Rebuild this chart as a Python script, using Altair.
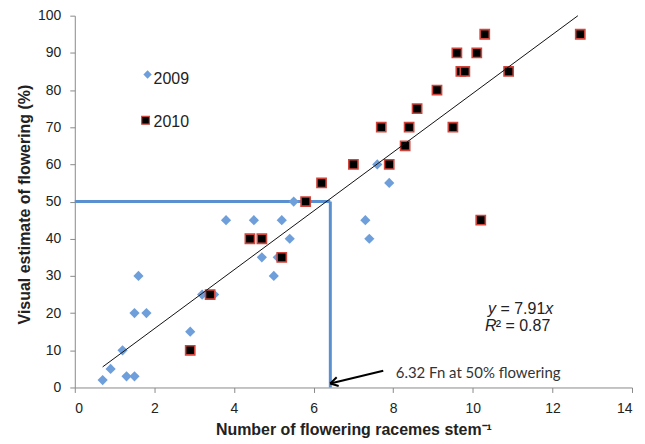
import altair as alt
import pandas as pd

# --- data ---
x2009 = [0.7, 0.9, 1.2, 1.3, 1.5, 1.5, 1.6, 1.8, 2.9, 3.2, 3.5, 3.8, 4.5, 4.7, 5.0, 5.1, 5.2, 5.4, 5.5, 7.3, 7.4, 7.6, 7.9]
y2009 = [2, 5, 10, 3, 3, 20, 30, 20, 15, 25, 25, 45, 45, 35, 30, 35, 45, 40, 50, 45, 40, 60, 55]
x2010 = [2.9, 3.4, 4.4, 4.7, 5.2, 5.8, 6.2, 7.0, 7.7, 7.9, 8.3, 8.4, 8.6, 9.1, 9.5, 9.6, 9.7, 9.8, 10.1, 10.3, 10.9, 10.2, 12.7]
y2010 = [10, 25, 40, 40, 35, 50, 55, 60, 70, 60, 65, 70, 75, 80, 70, 90, 85, 85, 90, 95, 85, 45, 95]

trend_x = [0.7, 12.64]
slope = 7.91

ref_x = 6.42          # vertical guide (6.32 Fn)
ref_y = 50            # 50 % flowering

arrow_x = [7.75, 6.42]   # tail, tip
arrow_y = [4.5, 1.07]
wing_x = [6.63, 6.58]
wing_y = [0.4, 2.73]

x_ticks = [0, 2, 4, 6, 8, 10, 12, 14]
y_ticks = [0, 10, 20, 30, 40, 50, 60, 70, 80, 90, 100]

BLUE_LINE = "#5A8FD0"
BLUE_PT = "#6E9FDA"
RED = "#D0463C"
FONT = "Liberation Sans"

d09 = pd.DataFrame({"x": x2009, "y": y2009})
d10 = pd.DataFrame({"x": x2010, "y": y2010})
trend = pd.DataFrame({"x": trend_x, "y": [slope * v for v in trend_x]})
hline = pd.DataFrame({"x": [0], "x2": [ref_x], "y": [ref_y]})
vline = pd.DataFrame({"x": [ref_x], "y": [0], "y2": [ref_y]})
shaft = pd.DataFrame({"x": [arrow_x[0]], "y": [arrow_y[0]], "x2": [arrow_x[1]], "y2": [arrow_y[1]]})
wings = pd.DataFrame({"x": [arrow_x[1], arrow_x[1]], "y": [arrow_y[1], arrow_y[1]], "x2": wing_x, "y2": wing_y})
one = pd.DataFrame({"a": [0]})

xs = alt.Scale(domain=[0, 14], nice=False)
ys = alt.Scale(domain=[0, 100], nice=False)

X = alt.X("x:Q", scale=xs, axis=alt.Axis(values=x_ticks, title="Number of flowering racemes stem\u207b\u00b9",
                                         titleY=42, titleBaseline="middle"))
Y = alt.Y("y:Q", scale=ys, axis=alt.Axis(values=y_ticks, title="Visual estimate of flowering (%)",
                                         titleX=-50, titleY=189, titleBaseline="middle"))

h = alt.Chart(hline).mark_rule(color=BLUE_LINE, strokeWidth=3).encode(x=X, x2="x2:Q", y=Y)
v = alt.Chart(vline).mark_rule(color=BLUE_LINE, strokeWidth=3).encode(x=X, y=Y, y2="y2:Q")
p09 = alt.Chart(d09).mark_point(shape="diamond", filled=True, size=105, color=BLUE_PT, opacity=1).encode(x=X, y=Y)
p10 = alt.Chart(d10).mark_point(shape="square", filled=True, fill="black", stroke=RED, strokeWidth=1.6,
                                size=85, opacity=1).encode(x=X, y=Y)
tl = alt.Chart(trend).mark_line(color="#111", strokeWidth=1).encode(x=X, y=Y)
ar = alt.Chart(shaft).mark_rule(color="black", strokeWidth=2).encode(x=X, y=Y, x2="x2:Q", y2="y2:Q")
aw = alt.Chart(wings).mark_rule(color="black", strokeWidth=2).encode(x=X, y=Y, x2="x2:Q", y2="y2:Q")

def txt(s, x, y, size=16, align="left", style="normal", font=FONT, color="#222"):
    return alt.Chart(one).mark_text(text=s, align=align, baseline="middle", fontSize=size, font=font,
                                    fontStyle=style, color=color).encode(x=alt.value(x), y=alt.value(y))

note = txt("6.32 Fn at 50% flowering", 322, 358, size=15, font="Lato", color="#333")

eq = [
    txt("x", 480, 294, style="italic", align="right"),
    txt(" = 7.91", 472, 294, align="right"),
    txt("y", 422.5, 294, style="italic", align="right"),
    txt("\u00b2 = 0.87", 477, 311, align="right"),
    txt("R", 423, 311, style="italic", align="right"),
]

leg_d = alt.Chart(one).mark_point(shape="diamond", filled=True, size=70, color=BLUE_PT, opacity=1).encode(
    x=alt.value(73), y=alt.value(59))
leg_s = alt.Chart(one).mark_point(shape="square", filled=True, fill="black", stroke=RED, strokeWidth=1.2,
                                  size=60, opacity=1).encode(x=alt.value(71), y=alt.value(105))
leg_t = [txt("2009", 79, 64), txt("2010", 79, 107)]

chart = alt.layer(h, v, p09, p10, tl, ar, aw, note, *eq, leg_d, leg_s, *leg_t).properties(
    width=559, height=373,
    autosize=alt.AutoSizeParams(type="none"),
    padding={"left": 67, "top": 7, "right": 5, "bottom": 52},
).configure_view(stroke=None).configure_axis(
    grid=False, domainColor="#8a8a8a", tickColor="#8a8a8a", tickSize=5, labelPadding=9,
    labelFont=FONT, labelFontSize=14, labelColor="#222",
    titleFont=FONT, titleFontSize=16, titleFontWeight="bold", titleColor="#222",
)

chart.save("out.html", embed_options={"renderer": "svg", "actions": False})
